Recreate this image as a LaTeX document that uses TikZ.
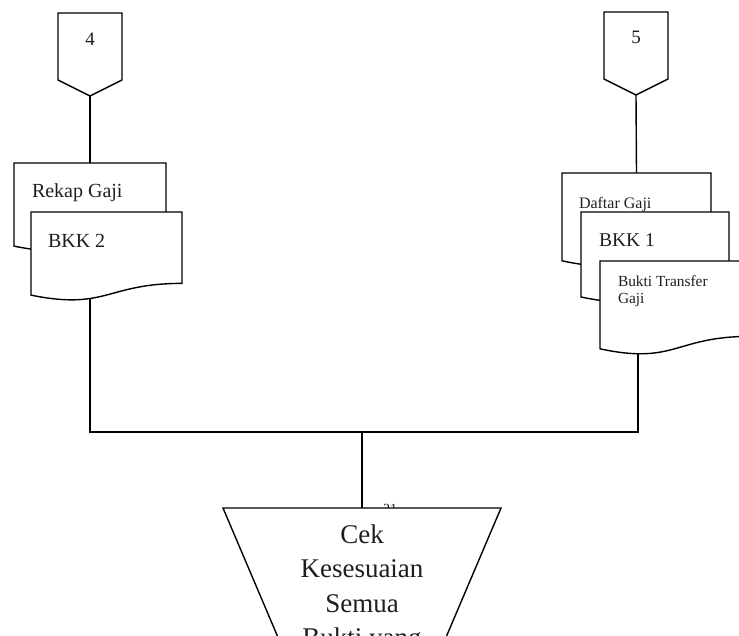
\documentclass[tikz,border=0pt]{standalone}
\usepackage{fontspec}
\setmainfont{Liberation Serif}
\usetikzlibrary{calc}

% document symbol with a wavy lower edge, drawn around an empty frame node
\newcommand\docshape[1]{%
  \path[outline] (#1.north west) -- (#1.north east)
    -- ($(#1.north east)!0.802!(#1.south east)$)
    .. controls ($(#1.north)!0.802!(#1.south)$) and ($(#1.north)!1.107!(#1.south)$)
    .. ($(#1.north west)!0.934!(#1.south west)$) -- cycle;}

% off-page connector (pentagon pointing down)
\newcommand\offpage[1]{%
  \path[outline] (#1.north west) -- (#1.north east)
    -- ($(#1.north east)!0.807!(#1.south east)$) -- (#1.south)
    -- ($(#1.north west)!0.807!(#1.south west)$) -- cycle;}

\newcommand\fs[2]{\fontsize{#1}{#2}\selectfont}

\begin{document}
\begin{tikzpicture}[x=1pt,y=-1pt,
  outline/.style={draw=black, line width=1.4pt, fill=white, line join=miter},
  wire/.style={draw=black, line width=1.4pt},
  trunk/.style={draw=black, line width=2.2pt, line cap=rect},
  frame/.style={draw=none, inner sep=0pt, outer sep=0pt, anchor=north west},
  lbl/.style={inner sep=0pt, outer sep=0pt, text=black!88},
]
\useasboundingbox (0,0) rectangle (739,635);
\clip (0,0) rectangle (739,635);

% frames for the symbols
\node[frame, minimum width=64pt, minimum height=83pt] (c4) at (58,13) {};
\node[frame, minimum width=64pt, minimum height=83pt] (c5) at (604,12) {};
\node[frame, minimum width=152pt, minimum height=89pt] (rekap) at (14,163) {};
\node[frame, minimum width=151pt, minimum height=89pt] (bkkb) at (31,212) {};
\node[frame, minimum width=149pt, minimum height=94pt] (daftar) at (562,173) {};
\node[frame, minimum width=148pt, minimum height=91pt] (bkka) at (581,212) {};
\node[frame, minimum width=150pt, minimum height=94pt] (bukti) at (600,261) {};

\coordinate (jL) at (90,432);
\coordinate (jR) at (638,432);
\coordinate (jM) at (362,432);
\coordinate (tzL) at (223,508);
\coordinate (tzR) at (501,508);
\coordinate (cekTop) at (362,508);

% connectors (drawn first, symbols cover their inner ends)
\draw[wire] (c4.south) -- (rekap.north);
\draw[wire] (c5.south) -- (daftar.north);
\draw[wire] (bkkb.north -| jL) -- (jL);
\draw[wire] (bukti.north -| jR) -- (jR);
\draw[trunk] (jL) -- (jR);
\draw[wire] (jM) -- (cekTop);

% page reference partly hidden by the process box
\node[lbl, anchor=north west, font=\fs{14}{16}] (ref) at (383,504.5) {21};

% symbols
\offpage{c4}
\offpage{c5}
\docshape{rekap}
\docshape{bkkb}
\docshape{daftar}
\docshape{bkka}
\docshape{bukti}
\path[outline] (tzL) -- (tzR) -- ($(tzR)!1.4!(447,635)$) -- ($(tzL)!1.4!(277,635)$) -- cycle;

% labels
\node[lbl, anchor=base, font=\fs{19}{22}] (t4) at (c4.north |- 0,45) {4};
\node[lbl, anchor=base, font=\fs{19}{22}] (t5) at (c5.north |- 0,43) {5};
\node[lbl, anchor=base west, font=\fs{20}{24}] (tRekap) at (32,197) {Rekap Gaji};
\node[lbl, anchor=base west, font=\fs{20}{24}] (tBkkb) at (48,247) {BKK 2};
\node[lbl, anchor=base west, font=\fs{16}{19}] (tDaftar) at (579,208) {Daftar Gaji};
\node[lbl, anchor=base west, font=\fs{19.5}{23}] (tBkka) at (599,246) {BKK 1};
\node[lbl, anchor=north west, align=left, font=\fs{15.4}{17}] (tBukti) at (618,275.2) {Bukti Transfer\\Gaji};
\node[lbl, anchor=north, align=center, font=\fs{27}{34.5}] (cek) at (362,524.6) {Cek\\Kesesuaian\\Semua\\Bukti yang};
\end{tikzpicture}
\end{document}
